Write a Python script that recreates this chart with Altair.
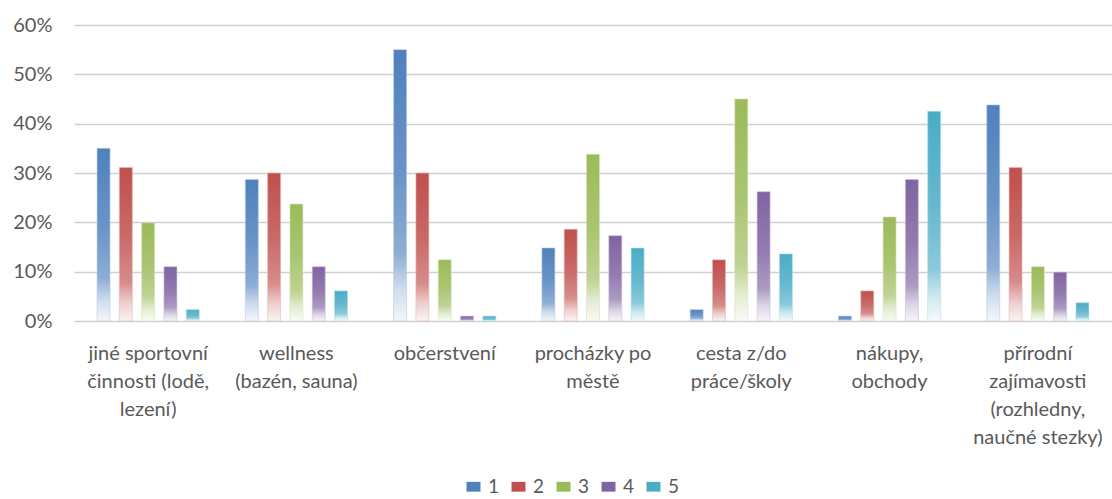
import altair as alt
import pandas as pd

# Categories (multi-line labels split on "|")
categories = [
    "jiné sportovní|činnosti (lodě,|lezení)",
    "wellness|(bazén, sauna)",
    "občerstvení",
    "procházky po|městě",
    "cesta z/do|práce/školy",
    "nákupy,|obchody",
    "přírodní|zajímavosti|(rozhledny,|naučné stezky)",
]

series_names = ["1", "2", "3", "4", "5"]

# Share of answers (%) per rating
s1 = [35.0, 28.7, 55.0, 14.8, 2.3, 1.0, 43.8]
s2 = [31.1, 30.0, 30.0, 18.6, 12.4, 6.1, 31.1]
s3 = [19.9, 23.7, 12.4, 33.8, 45.0, 21.1, 11.0]
s4 = [11.0, 11.0, 1.0, 17.3, 26.2, 28.7, 9.9]
s5 = [2.3, 6.1, 1.0, 14.8, 13.6, 42.5, 3.7]

colors = ["#4f81bd", "#c0504d", "#9bbb59", "#8064a2", "#4bacc6"]

rows = []
for name, vals in zip(series_names, [s1, s2, s3, s4, s5]):
    for cat, v in zip(categories, vals):
        rows.append({"kategorie": cat, "serie": name, "hodnota": v})
df = pd.DataFrame(rows)


def tint(hex_color, amount):
    """Blend a colour towards white by the given amount (0..1)."""
    h = hex_color.lstrip("#")
    r, g, b = (int(h[i:i + 2], 16) for i in (0, 2, 4))
    r = round(r + (255 - r) * amount)
    g = round(g + (255 - g) * amount)
    b = round(b + (255 - b) * amount)
    return f"#{r:02x}{g:02x}{b:02x}"


def fade(c):
    return alt.Gradient(
        gradient="linear",
        x1=0, x2=0, y1=0, y2=1,
        stops=[
            alt.GradientStop(offset=0, color=c),
            alt.GradientStop(offset=0.45, color=tint(c, 0.15)),
            alt.GradientStop(offset=0.75, color=tint(c, 0.35)),
            alt.GradientStop(offset=0.88, color=tint(c, 0.72)),
            alt.GradientStop(offset=1, color=tint(c, 0.94)),
        ],
    )


FONT = "Lato"
TEXT = "#595959"

x_enc = alt.X(
    "kategorie:N",
    sort=categories,
    scale=alt.Scale(paddingInner=0.248, paddingOuter=0.124),
    axis=alt.Axis(
        title=None,
        labelAngle=0,
        labelExpr="split(datum.label, '|')",
        labelLineHeight=28,
        labelPadding=22,
        labelLimit=0,
        labelOverlap=False,
        domain=False,
        ticks=False,
        grid=False,
    ),
)
xoff_enc = alt.XOffset(
    "serie:N",
    scale=alt.Scale(domain=series_names, paddingInner=0.417, paddingOuter=0.2085),
)
y_enc = alt.Y(
    "hodnota:Q",
    scale=alt.Scale(domain=[0, 60], nice=False),
    axis=alt.Axis(
        title=None,
        values=[0, 10, 20, 30, 40, 50, 60],
        labelExpr="datum.value + '%'",
        labelPadding=22,
        domain=False,
        ticks=False,
        grid=True,
        gridColor="#d0d0d0",
        gridWidth=1.5,
    ),
)

base = alt.Chart(df)

bar_layers = [
    base.transform_filter(alt.datum.serie == name)
    .mark_bar(fill=fade(c), stroke=tint(c, 0.6), strokeWidth=0.6)
    .encode(x=x_enc, xOffset=xoff_enc, y=y_enc)
    for name, c in zip(series_names, colors)
]

# Invisible layer that carries the colour legend
legend_layer = base.mark_point(filled=True, opacity=0).encode(
    x=x_enc,
    xOffset=xoff_enc,
    y=y_enc,
    color=alt.Color(
        "serie:N",
        scale=alt.Scale(domain=series_names, range=colors),
        legend=alt.Legend(
            title=None,
            orient="none",
            direction="horizontal",
            legendX=390,
            legendY=452,
            padding=0,
            symbolType="M-1,-0.7L1,-0.7L1,0.7L-1,0.7Z",
            symbolSize=196,
            symbolOpacity=1,
            symbolStrokeWidth=0,
            labelFontSize=19,
            labelOffset=5,
            columnPadding=9,
        ),
    ),
)

chart = (
    alt.layer(*bar_layers, legend_layer)
    .properties(
        width=1038,
        height=296,
        autosize=alt.AutoSizeParams(type="none"),
        padding={"left": 74, "top": 25, "right": 0, "bottom": 178},
    )
    .configure_view(stroke=None)
    .configure_axis(labelFont=FONT, labelFontSize=20, labelColor=TEXT)
    .configure_legend(labelFont=FONT, labelColor=TEXT)
)

chart.save("out.html", embed_options={"renderer": "svg", "actions": False})
